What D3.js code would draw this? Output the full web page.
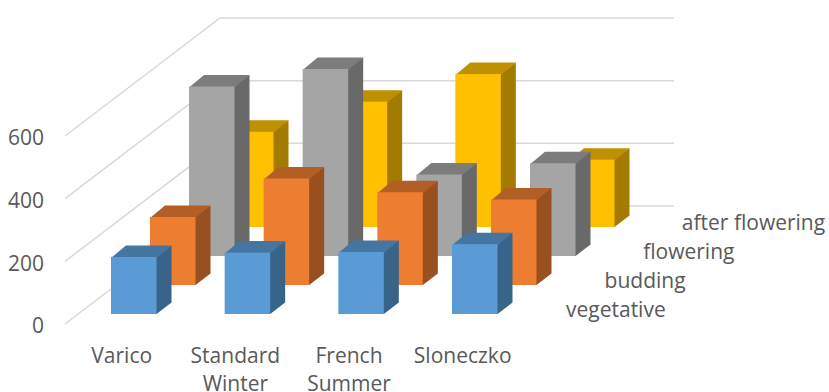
<!DOCTYPE html>
<html>
<head>
<meta charset="utf-8">
<script src="https://cdn.jsdelivr.net/npm/d3@7"></script>
<style>
html,body{margin:0;padding:0;background:#fff;overflow:hidden}
svg{display:block}
text{font-family:"Open Sans",sans-serif;fill:#595959}
</style>
</head>
<body>
<svg id="chart" width="829" height="392"></svg>
<script>
const categories = ["Varico", "Standard Winter", "French Summer", "Sloneczko"];
const seriesNames = ["vegetative", "budding", "flowering", "after flowering"];
const vegetative = [182, 196, 198, 223];
const budding = [217, 340, 296, 273];
const flowering = [541, 597, 260, 296];
const afterFlowering = [304, 400, 488, 215];
const yTicks = [0, 200, 400, 600];
const seriesValues = [vegetative, budding, flowering, afterFlowering];
const seriesColors = [
  {front:"#5b9bd5", top:"#4476a1", side:"#38648a"},
  {front:"#ed7d31", top:"#b25e25", side:"#985020"},
  {front:"#a5a5a5", top:"#7c7c7c", side:"#696969"},
  {front:"#ffc000", top:"#bf9000", side:"#a37b00"}
];

const svg = d3.select("#chart");
const barW = 45.5, depthX = 15, depthY = 11.5;
const fontSize = "21px";

const xCat = d3.scalePoint().domain(categories).range([111, 452]);
const xDepth = d3.scalePoint().domain(seriesNames).range([0, 117]);
const yDepth = d3.scalePoint().domain(seriesNames).range([314, 227]);
const h = d3.scaleLinear().domain([0, 600]).range([0, 188]);
const yFront = d3.scaleLinear().domain([0, 600]).range([324, 136]);
const wallDX = 155, wallDY = 118;

// Walls
const grid = svg.append("g").attr("fill", "none").attr("stroke", "#d9d9d9").attr("stroke-width", 1.5);
grid.selectAll("path").data(yTicks).join("path")
  .attr("d", t => {
    const y = yFront(t);
    return `M65,${y}L${65 + wallDX},${y - wallDY}H674`;
  });

// Bars, back row first
const rows = seriesNames.map((name, i) => ({name, values: seriesValues[i], color: seriesColors[i]})).reverse();
const rowG = svg.selectAll("g.row").data(rows).join("g").attr("class", "row");
rowG.each(function(row) {
  const g = d3.select(this);
  categories.forEach((cat, i) => {
    const x0 = xCat(cat) + xDepth(row.name);
    const base = yDepth(row.name);
    const top = base - h(row.values[i]);
    const x1 = x0 + barW;
    g.append("path").attr("fill", row.color.side)
      .attr("d", `M${x1 - 1},${top}L${x1 + depthX},${top - depthY}V${base - depthY}L${x1},${base}H${x1 - 1}Z`);
    g.append("path").attr("fill", row.color.top)
      .attr("d", `M${x0},${top + 1}L${x0 + depthX},${top - depthY}H${x1 + depthX}L${x1},${top + 1}Z`);
    g.append("rect").attr("fill", row.color.front)
      .attr("x", x0).attr("y", top).attr("width", barW).attr("height", base - top);
  });
});

// Value axis
const axisG = svg.append("g").attr("transform", "translate(44,2)")
  .call(d3.axisLeft(yFront).tickValues(yTicks).tickSize(0).tickPadding(0).tickFormat(d3.format("d")));
axisG.select(".domain").remove();
axisG.selectAll("text").style("font-size", fontSize).attr("fill", "#595959")
  .style("font-family", "'Open Sans',sans-serif");

// Category labels
const labelOffset = 10.7;
const catLabels = svg.selectAll("text.cat").data(categories).join("text")
  .attr("class", "cat").attr("text-anchor", "middle").style("font-size", fontSize);
catLabels.each(function(d) {
  const parts = d.split(" ");
  d3.select(this).selectAll("tspan").data(parts).join("tspan")
    .attr("x", xCat(d) + labelOffset)
    .attr("y", (p, j) => 363 + j * 28)
    .text(p => p);
});

// Depth labels
svg.selectAll("text.ser").data(seriesNames).join("text")
  .attr("class", "ser").style("font-size", fontSize)
  .attr("x", d => 566 + xDepth(d) * 0.99)
  .attr("y", d => yDepth(d) + 3)
  .text(d => d);
</script>
</body>
</html>
